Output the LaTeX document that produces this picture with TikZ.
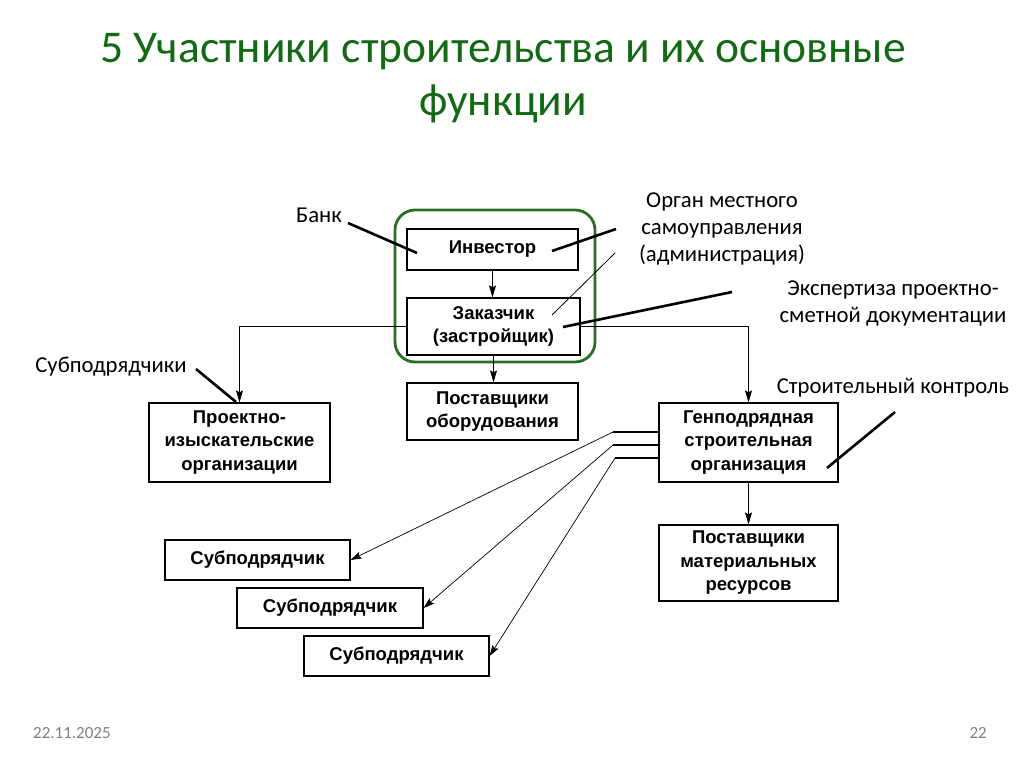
\documentclass[tikz,border=0pt]{standalone}
\usepackage{fontspec}
\setmainfont{Carlito}
\newfontfamily\bxfont{Liberation Sans}
\usetikzlibrary{arrows.meta}
\definecolor{ttlgreen}{RGB}{20,105,20}
\definecolor{frmgreen}{RGB}{40,110,35}
\begin{document}
\begin{tikzpicture}[x=1pt,y=-1pt,
  box/.style={draw,line width=1.2pt,inner sep=0pt,align=center,
    font=\bxfont\bfseries\fontsize{18.5}{23.5}\selectfont},
  arr/.style={line width=0.9pt,-{Stealth[length=12pt,width=7pt,inset=2pt]}},
  thinarr/.style={line width=0.7pt,-{Stealth[length=11pt,width=7pt,inset=2pt]}},
  note/.style={line width=2.6pt},
  lbl/.style={inner sep=0pt,align=center,font=\fontsize{22.7}{27}\selectfont},
  foot/.style={inner sep=0pt,text=gray,font=\fontsize{17}{19}\selectfont}]
\useasboundingbox (0,0) rectangle (1024,767);
% title
\node[inner sep=0pt,text=ttlgreen,align=center,font=\fontsize{45.5}{53}\selectfont] (title) at (503,78)
  {5 Участники строительства и их основные\\функции};
% green frame
\draw[frmgreen,line width=2.8pt,rounded corners=20pt] (395,210) rectangle (595,362);
% boxes
\node[box,minimum width=171pt,minimum height=41pt] (inv) at (492.5,249.5) {Инвестор};
\node[box,minimum width=173pt,minimum height=57pt] (zak) at (493.5,326.5) {Заказчик\\(застройщик)};
\node[box,minimum width=171pt,minimum height=57pt] (pob) at (492.5,411.5) {Поставщики\\оборудования};
\node[box,minimum width=181pt,minimum height=79pt] (pi) at (239.5,442.5) {Проектно-\\изыскательские\\организации};
\node[box,minimum width=179pt,minimum height=79pt] (gen) at (748.5,442.5) {Генподрядная\\строительная\\организация};
\node[box,minimum width=179pt,minimum height=76pt] (pmr) at (748.5,563) {Поставщики\\материальных\\ресурсов};
\node[box,minimum width=185pt,minimum height=40pt] (s1) at (257.5,560) {Субподрядчик};
\node[box,minimum width=186pt,minimum height=40pt] (s2) at (330,608) {Субподрядчик};
\node[box,minimum width=185pt,minimum height=40pt] (s3) at (396.5,656) {Субподрядчик};
% labels
\node[lbl] (bank) at (319,215) {Банк};
\node[lbl] (organ) at (722,229) {Орган местного\\самоуправления\\(администрация)};
\node[lbl] (exp) at (893,303) {Экспертиза проектно-\\сметной документации};
\node[lbl] (subs) at (111,367) {Субподрядчики};
\node[lbl] (sk) at (893,388) {Строительный контроль};
\node[foot,anchor=west] (date) at (33,733) {22.11.2025};
\node[foot,anchor=east] (page) at (987,733) {22};
% connectors
\draw[arr] (inv.south) -- (inv.south |- zak.north);
\draw[arr] (zak.south) -- (zak.south |- pob.north);
\draw[arr] (zak.west) -| (pi.north);
\draw[arr] (zak.east) -| (gen.north);
\draw[arr] (gen.south) -- (gen.south |- pmr.north);
% subcontractor links
\coordinate (g1) at (659,432); \coordinate (b1) at (613,432);
\coordinate (g2) at (659,445); \coordinate (b2) at (613,445);
\coordinate (g3) at (659,458); \coordinate (b3) at (615,458);
\draw[line width=2pt] (g1) -- (b1);
\draw[line width=2pt] (g2) -- (b2);
\draw[line width=2pt] (g3) -- (b3);
\draw[thinarr] (b1) -- (s1.east);
\draw[thinarr] (b2) -- (s2.east);
\draw[thinarr] (b3) -- (s3.east);
% annotation pointers
\coordinate (bankA) at (348,223); \coordinate (bankB) at (417,253);
\draw[note] (bankA) -- (bankB);
\coordinate (orgA) at (616,229); \coordinate (orgB) at (552,251);
\draw[note] (orgA) -- (orgB);
\coordinate (orgC) at (615,253); \coordinate (orgD) at (552,315);
\draw[line width=0.8pt] (orgC) -- (orgD);
\coordinate (expA) at (732,292); \coordinate (expB) at (563,327);
\draw[note] (expA) -- (expB);
\coordinate (subA) at (196,369); \coordinate (subB) at (236,402);
\draw[note] (subA) -- (subB);
\coordinate (skA) at (895,412); \coordinate (skB) at (827,468);
\draw[note] (skA) -- (skB);
\end{tikzpicture}
\end{document}
